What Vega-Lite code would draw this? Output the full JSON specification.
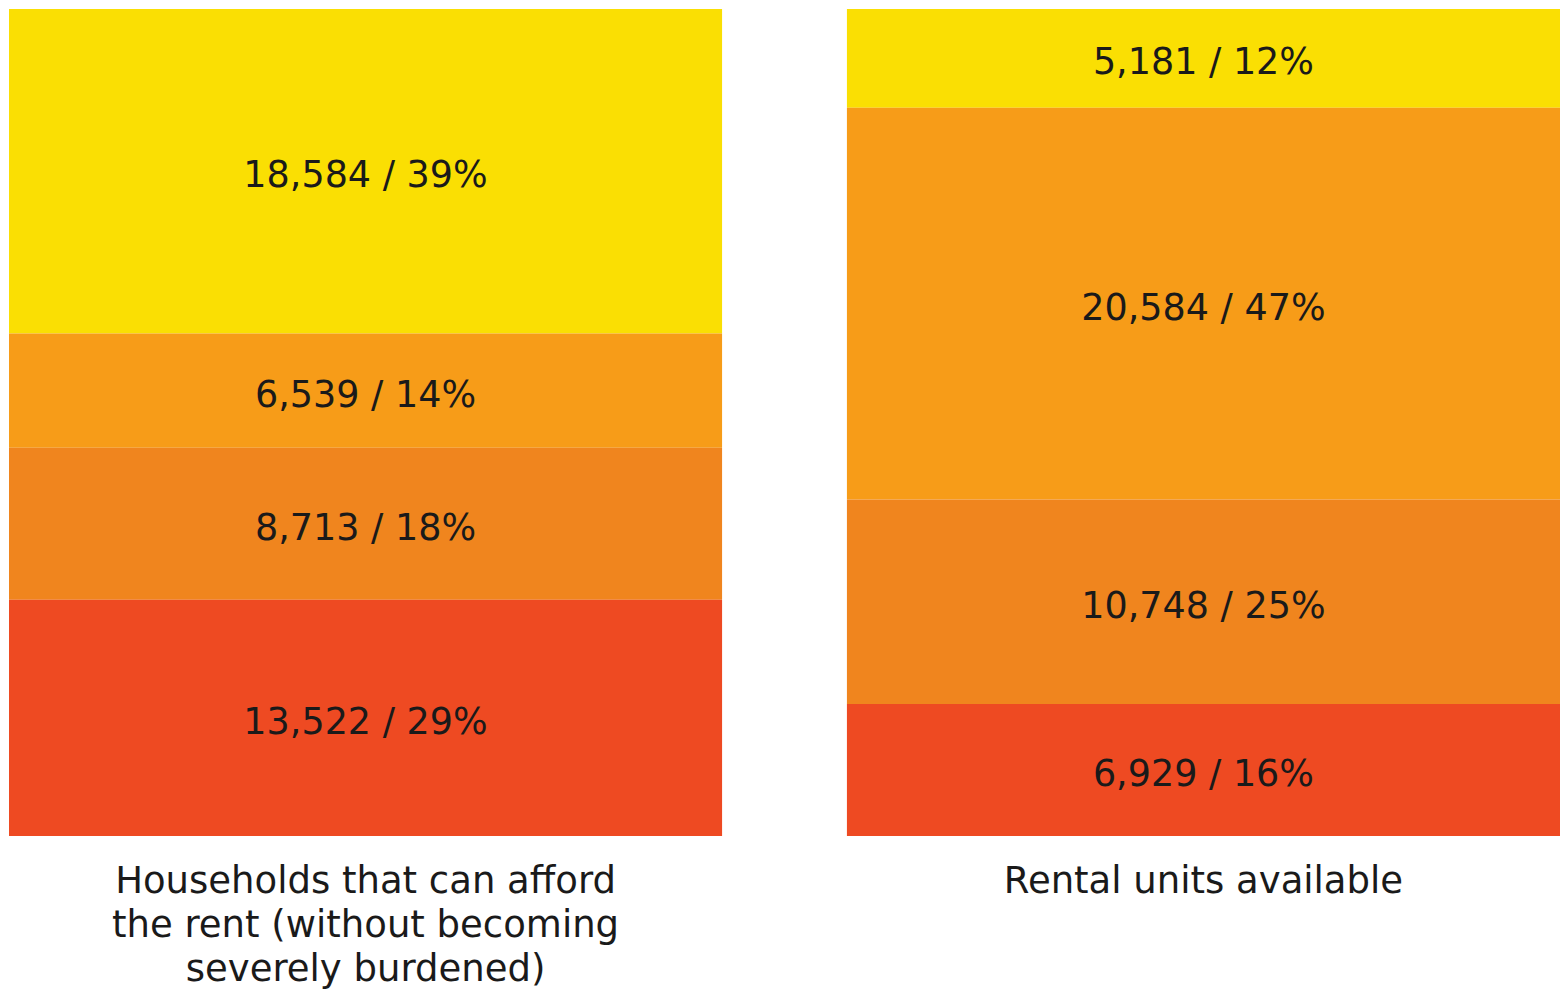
{
  "$schema": "https://vega.github.io/schema/vega-lite/v6.json",
  "width": 1567,
  "height": 827,
  "autosize": {"type": "none"},
  "padding": {"top": 9, "left": 0, "right": 0, "bottom": 154},
  "background": "white",
  "config": {"view": {"stroke": null}},
  "data": {
    "values": [
      {"group": "Households that can afford|the rent (without becoming|severely burdened)", "tier": "T4", "rank": 4, "count": 18584, "label": "18,584 / 39%"},
      {"group": "Households that can afford|the rent (without becoming|severely burdened)", "tier": "T3", "rank": 3, "count": 6539, "label": "6,539 / 14%"},
      {"group": "Households that can afford|the rent (without becoming|severely burdened)", "tier": "T2", "rank": 2, "count": 8713, "label": "8,713 / 18%"},
      {"group": "Households that can afford|the rent (without becoming|severely burdened)", "tier": "T1", "rank": 1, "count": 13522, "label": "13,522 / 29%"},
      {"group": "Rental units available", "tier": "T4", "rank": 4, "count": 5181, "label": "5,181 / 12%"},
      {"group": "Rental units available", "tier": "T3", "rank": 3, "count": 20584, "label": "20,584 / 47%"},
      {"group": "Rental units available", "tier": "T2", "rank": 2, "count": 10748, "label": "10,748 / 25%"},
      {"group": "Rental units available", "tier": "T1", "rank": 1, "count": 6929, "label": "6,929 / 16%"}
    ]
  },
  "transform": [
    {"stack": "count", "groupby": ["group"], "sort": [{"field": "rank", "order": "ascending"}], "offset": "normalize", "as": ["y0", "y1"]},
    {"calculate": "(datum.y0 + datum.y1) / 2", "as": "ymid"}
  ],
  "encoding": {
    "x": {
      "field": "group",
      "type": "nominal",
      "sort": null,
      "scale": {"range": [9, 1560], "paddingInner": 0.149, "paddingOuter": 0},
      "axis": {
        "title": null,
        "domain": false,
        "ticks": false,
        "labelAngle": 0,
        "labelExpr": "split(datum.value, '|')",
        "labelFont": "DejaVu Sans",
        "labelFontSize": 37,
        "labelLineHeight": 44,
        "labelColor": "#1a1a1a",
        "labelBaseline": "top",
        "labelPadding": 27,
        "labelLimit": 0
      }
    }
  },
  "layer": [
    {
      "mark": {"type": "rect"},
      "encoding": {
        "y": {"field": "y0", "type": "quantitative", "scale": {"domain": [0, 1], "nice": false}, "axis": null},
        "y2": {"field": "y1"},
        "color": {
          "field": "tier",
          "type": "nominal",
          "scale": {"domain": ["T1", "T2", "T3", "T4"], "range": ["#EE4A22", "#F0851E", "#F79C18", "#FADF03"]},
          "legend": null
        }
      }
    },
    {
      "mark": {"type": "text", "font": "DejaVu Sans", "fontSize": 36.5, "color": "#1a1a1a", "baseline": "middle", "align": "center", "dy": 5},
      "encoding": {
        "y": {"field": "ymid", "type": "quantitative"},
        "text": {"field": "label"}
      }
    }
  ]
}
